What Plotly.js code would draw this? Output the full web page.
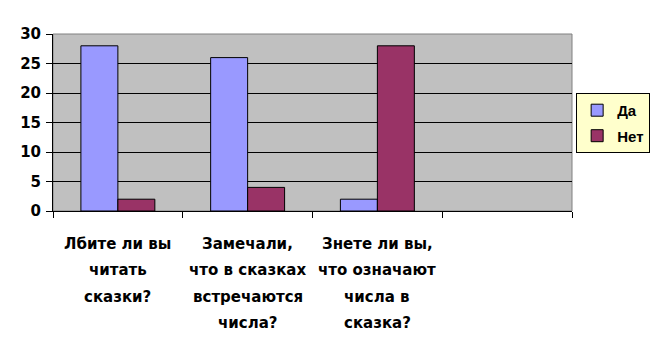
<!DOCTYPE html>
<html>
<head>
<meta charset="utf-8">
<script src="https://cdn.plot.ly/plotly-3.0.1.min.js"></script>
<style>html,body{margin:0;padding:0;background:#fff;}#chart{width:655px;height:353px;}</style>
</head>
<body>
<div id="chart"></div>
<script>
var categories = ["Лбите ли вы<br>читать<br>сказки?", "Замечали,<br>что в сказках<br>встречаются<br>числа?", "Знете ли вы,<br>что означают<br>числа в<br>сказка?", " "];
var seriesNames = ["Да", "Нет"];
var valuesDa = [28, 26, 2, null];
var valuesNet = [2, 4, 28, null];
var yTicks = [0, 5, 10, 15, 20, 25, 30];

var FONT = "DejaVu Sans";
var traces = [
  {type: "bar", name: seriesNames[0], x: categories, y: valuesDa, legendgroup: "a",
   marker: {color: "#9999FF", line: {color: "#000", width: 1}}},
  {type: "bar", name: seriesNames[1], x: categories, y: valuesNet, legendgroup: "b",
   marker: {color: "#993366", line: {color: "#000", width: 1}}}
];

var annotations = [];
categories.forEach(function (c) {
  var lines = c.split("<br>");
  lines.forEach(function (ln, i) {
    if (!ln.trim()) return;
    annotations.push({
      x: c, xref: "x", y: 0, yref: "paper", yanchor: "middle", xanchor: "center",
      yshift: -(32.5 + i * 26.5), showarrow: false, text: ln,
      font: {family: FONT, size: 15, color: "#000", weight: "bold"}
    });
  });
});

var layout = {
  width: 655, height: 353,
  margin: {l: 53, r: 83, t: 34, b: 142, pad: 0, autoexpand: false},
  paper_bgcolor: "#fff", plot_bgcolor: "#C0C0C0",
  barmode: "group", bargap: 0.43, bargroupgap: 0,
  showlegend: true,
  legend: {x: 1.008, y: 0.667, xanchor: "left", yanchor: "top",
           traceorder: "grouped", tracegroupgap: 3, itemwidth: 30,
           bgcolor: "#FFFFCC", bordercolor: "#000", borderwidth: 1,
           font: {family: "Liberation Sans", size: 15, color: "#000", weight: "bold"}},
  xaxis: {type: "category", range: [-0.5, 3.5], tickson: "boundaries",
          showticklabels: false, ticks: "outside", ticklen: 6, tickcolor: "#000",
          showline: true, linecolor: "#000", linewidth: 1, showgrid: false, zeroline: false},
  yaxis: {range: [0, 30], tickvals: yTicks, ticks: "outside", ticklen: 6, tickcolor: "#000",
          showline: true, linecolor: "#000", linewidth: 1,
          showgrid: true, gridcolor: "#000", gridwidth: 1, zeroline: false,
          tickfont: {family: FONT, size: 15, color: "#000", weight: "bold"}, ticklabelstandoff: 2},
  shapes: [{type: "rect", xref: "paper", yref: "paper", x0: 0, x1: 1, y0: 0, y1: 1,
            line: {color: "#808080", width: 1}, layer: "below"}],
  annotations: annotations
};

Plotly.newPlot("chart", traces, layout, {displayModeBar: false, staticPlot: true});
</script>
</body>
</html>
